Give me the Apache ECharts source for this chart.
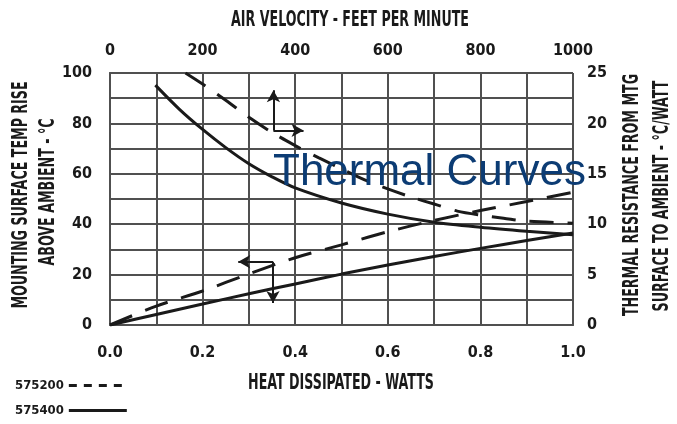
<!DOCTYPE html>
<html><head><meta charset="utf-8">
<script src="https://cdn.jsdelivr.net/npm/echarts@6/dist/echarts.min.js"></script>
<style>html,body{margin:0;padding:0;background:#fff}#c{width:677px;height:424px}</style>
</head><body><div id="c"></div>
<script>
// ---- data ----
const heatWatts   = [0, 0.1, 0.2, 0.3, 0.4, 0.5, 0.6, 0.7, 0.8, 0.9, 1.0];
const rise575200  = [0, 7.5, 13.5, 20.3, 26.7, 31.8, 37.0, 41.5, 45.4, 49.0, 52.7];
const rise575400  = [0, 4.2, 8.3, 12.4, 16.3, 20.2, 23.8, 27.2, 30.4, 33.5, 36.5];
const air575200   = [163, 200, 250, 300, 350, 400, 450, 500, 550, 600, 650, 700, 750, 800, 850, 900, 1000];
const res575200   = [25, 23.9, 22.3, 20.6, 19.1, 17.8, 16.6, 15.5, 14.4, 13.5, 12.7, 12.0, 11.3, 10.9, 10.6, 10.3, 10.1];
const air575400   = [98, 150, 200, 250, 300, 350, 400, 500, 600, 700, 800, 900, 1000];
const res575400   = [23.8, 21.4, 19.4, 17.6, 16.0, 14.7, 13.6, 12.1, 11.0, 10.2, 9.7, 9.3, 8.95];
const heatTickLabels = ['0.0', '0.2', '0.4', '0.6', '0.8', '1.0'];
const airTickLabels  = ['0', '200', '400', '600', '800', '1000'];
const riseTickLabels = ['0', '20', '40', '60', '80', '100'];
const resTickLabels  = ['0', '5', '10', '15', '20', '25'];
// arrow annotations (data units)
const arrowAirPoint  = [353, 19.3];   const arrowAirUp = 23.3;  const arrowAirRight = 418;
const arrowHeatPoint = [0.352, 25.1]; const arrowHeatLeft = 0.277; const arrowHeatDown = 8.7;

const NARROW = "'Liberation Sans Narrow','DejaVu Sans Condensed',sans-serif";
const INK = '#1a1a1a';
const GRIDC = '#505050';
const zip = (a, b) => a.map((v, i) => [v, b[i]]);

const labelStyle = { fontFamily: NARROW, fontWeight: 'bold', fontSize: 16, color: INK };
const gridLine = { show: true, lineStyle: { color: GRIDC, width: 2 } };

const arrowMark = (pairs) => ({
  silent: true, animation: false,
  symbol: ['none', 'arrow'], symbolSize: [10, 12],
  label: { show: false },
  lineStyle: { type: 'solid', width: 2, color: INK },
  emphasis: { disabled: true },
  data: pairs
});

const axisTitle = (text, x, y, rot) => ({
  type: 'text', x: x, y: y, rotation: rot, scaleX: 0.88, scaleY: 1.35,
  style: { text: text, font: 'bold 16px ' + NARROW, fill: INK, align: 'center', verticalAlign: 'middle' }
});

const chart = echarts.init(document.getElementById('c'));
chart.setOption({
  animation: false,
  backgroundColor: '#fff',
  title: {
    text: 'Thermal Curves', left: 268, top: 146,
    textStyle: { fontFamily: "'Liberation Sans',Arial,sans-serif", fontWeight: 'normal', fontSize: 44, color: '#0c3c74' }
  },
  legend: {
    orient: 'vertical', left: 10, top: 374, align: 'right',
    itemWidth: 58, itemHeight: 14, itemGap: 12,
    itemStyle: { opacity: 0 },
    textStyle: { fontFamily: NARROW, fontWeight: 'bold', fontSize: 13, color: INK },
    data: [
      { name: '575200', lineStyle: { type: [8, 7], width: 3 } },
      { name: '575400', lineStyle: { width: 3 } }
    ]
  },
  grid: { left: 110, right: 104, top: 73, bottom: 99 },
  xAxis: [
    { type: 'value', position: 'bottom', min: 0, max: 1, interval: 0.2,
      axisLine: gridLine, axisTick: { show: false },
      axisLabel: Object.assign({ margin: 20, formatter: v => heatTickLabels[Math.round(v / 0.2)] }, labelStyle),
      splitLine: gridLine, minorTick: { show: false, splitNumber: 2 }, minorSplitLine: gridLine },
    { type: 'value', position: 'top', min: 0, max: 1000, interval: 200,
      axisLine: gridLine, axisTick: { show: false },
      axisLabel: Object.assign({ margin: 14, formatter: v => airTickLabels[Math.round(v / 200)] }, labelStyle),
      splitLine: { show: false } }
  ],
  yAxis: [
    { type: 'value', position: 'left', min: 0, max: 100, interval: 20,
      axisLine: gridLine, axisTick: { show: false },
      axisLabel: Object.assign({ margin: 18, formatter: v => riseTickLabels[Math.round(v / 20)] }, labelStyle),
      splitLine: gridLine, minorTick: { show: false, splitNumber: 2 }, minorSplitLine: gridLine },
    { type: 'value', position: 'right', min: 0, max: 25, interval: 5,
      axisLine: gridLine, axisTick: { show: false },
      axisLabel: Object.assign({ margin: 14, formatter: v => resTickLabels[Math.round(v / 5)] }, labelStyle),
      splitLine: { show: false } }
  ],
  series: [
    { name: '575200', type: 'line', xAxisIndex: 0, yAxisIndex: 0, symbol: 'none', smooth: 0.3,
      lineStyle: { color: INK, width: 3, type: [24, 14] }, itemStyle: { color: INK },
      data: zip(heatWatts, rise575200) },
    { name: '575200', type: 'line', xAxisIndex: 1, yAxisIndex: 1, symbol: 'none', smooth: 0.3,
      lineStyle: { color: INK, width: 3, type: [24, 14] }, itemStyle: { color: INK },
      data: zip(air575200, res575200),
      markLine: arrowMark([
        [{ coord: arrowAirPoint }, { coord: [arrowAirPoint[0], arrowAirUp] }],
        [{ coord: arrowAirPoint }, { coord: [arrowAirRight, arrowAirPoint[1]] }]
      ]) },
    { name: '575400', type: 'line', xAxisIndex: 0, yAxisIndex: 0, symbol: 'none', smooth: 0.3,
      lineStyle: { color: INK, width: 3 }, itemStyle: { color: INK },
      data: zip(heatWatts, rise575400),
      markLine: arrowMark([
        [{ coord: arrowHeatPoint }, { coord: [arrowHeatLeft, arrowHeatPoint[1]] }],
        [{ coord: arrowHeatPoint }, { coord: [arrowHeatPoint[0], arrowHeatDown] }]
      ]) },
    { name: '575400', type: 'line', xAxisIndex: 1, yAxisIndex: 1, symbol: 'none', smooth: 0.3,
      lineStyle: { color: INK, width: 3 }, itemStyle: { color: INK },
      data: zip(air575400, res575400) }
  ],
  graphic: [
    axisTitle('AIR VELOCITY - FEET PER MINUTE', 350, 20, 0),
    axisTitle('HEAT DISSIPATED - WATTS', 341, 383, 0),
    axisTitle('MOUNTING SURFACE TEMP RISE', 21, 195, Math.PI / 2),
    axisTitle('ABOVE AMBIENT - °C', 48, 192, Math.PI / 2),
    axisTitle('THERMAL RESISTANCE FROM MTG', 632, 195, Math.PI / 2),
    axisTitle('SURFACE TO AMBIENT - °C/WATT', 662, 196, Math.PI / 2)
  ]
});
</script>
</body></html>
